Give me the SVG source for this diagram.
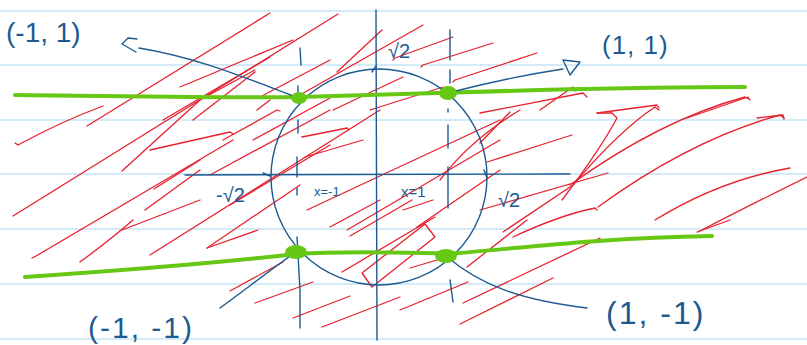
<svg xmlns="http://www.w3.org/2000/svg" width="807" height="345" viewBox="0 0 807 345">
<style>
.rule{stroke:#d3eaf8;stroke-width:2}
.red{fill:none;stroke:#e8202e;stroke-width:1.3;stroke-linecap:round;stroke-linejoin:round}
.blue{fill:none;stroke:#1d5a91;stroke-width:1.4;stroke-linecap:round;stroke-linejoin:round}
.green{fill:none;stroke:#66c814;stroke-width:4;stroke-linecap:round}
.dot{fill:#66c814}
.lbl{font-family:"Liberation Sans",Arial,sans-serif;fill:#1d5a91}
</style>
<rect width="807" height="345" fill="#ffffff"/>
<g id="ruling">
<line class="rule" x1="0" y1="11" x2="807" y2="11"/>
<line class="rule" x1="0" y1="65" x2="807" y2="65"/>
<line class="rule" x1="0" y1="120" x2="807" y2="120"/>
<line class="rule" x1="0" y1="174" x2="807" y2="174"/>
<line class="rule" x1="0" y1="229" x2="807" y2="229"/>
<line class="rule" x1="0" y1="284" x2="807" y2="284"/>
<line class="rule" x1="0" y1="339" x2="807" y2="339"/>
</g>
<g id="hatching">
<path class="red" d="M87,126 L270,13"/>
<path class="red" d="M13,216 L338,14"/>
<path class="red" d="M122,171 L200,100 L255,70"/>
<path class="red" d="M15,143 L18,145 Q60,122 103,106"/>
<path class="red" d="M32,258 L36,256 L233,140"/>
<path class="red" d="M80,262 Q110,240 133,220"/>
<path class="red" d="M150,255 L380,110"/>
<path class="red" d="M207,248 L300,185"/>
<path class="red" d="M207,248 L258,230"/>
<path class="red" d="M155,267 L283,255"/>
<path class="red" d="M230,291 L283,262"/>
<path class="red" d="M255,303 L313,282"/>
<path class="red" d="M293,318 L350,296"/>
<path class="red" d="M322,327 L400,297"/>
<path class="red" d="M150,150 L230,132 L233,134"/>
<path class="red" d="M145,210 L200,170"/>
<path class="red" d="M154,189 L200,160"/>
<path class="red" d="M122,230 L200,200"/>
<path class="red" d="M163,120 L270,57"/>
<path class="red" d="M193,120 L255,72"/>
<path class="red" d="M257,110 L270,100"/>
<path class="red" d="M180,87 L293,40"/>
<path class="red" d="M253,140 L330,98"/>
<path class="red" d="M260,97 L330,60"/>
<path class="red" d="M223,140 L277,110 L280,111"/>
<path class="red" d="M337,72 L382,30"/>
<path class="red" d="M300,95 L423,25"/>
<path class="red" d="M393,60 L395,58 L453,37"/>
<path class="red" d="M421,67 L423,65 L493,43"/>
<path class="red" d="M453,82 L455,80 L537,53"/>
<path class="red" d="M333,110 L403,77"/>
<path class="red" d="M370,110 L443,87"/>
<path class="red" d="M302,137 L347,128 L349,130"/>
<path class="red" d="M305,157 L363,140"/>
<path class="red" d="M307,210 L500,120"/>
<path class="red" d="M347,230 L500,140"/>
<path class="red" d="M417,227 L500,170"/>
<path class="red" d="M403,210 L433,200"/>
<path class="red" d="M440,180 Q470,140 520,110"/>
<path class="red" d="M230,205 L330,145"/>
<path class="red" d="M210,175 L330,110"/>
<path class="red" d="M480,113 L583,93 L587,97"/>
<path class="red" d="M480,143 L510,112"/>
<path class="red" d="M487,162 L572,135"/>
<path class="red" d="M480,210 L608,173"/>
<path class="red" d="M503,232 L573,185 Q620,130 655,107 L659,110"/>
<path class="red" d="M570,185 Q660,120 745,97 L749,99"/>
<path class="red" d="M598,207 Q690,140 780,115 L784,118"/>
<path class="red" d="M655,220 Q720,180 790,168"/>
<path class="red" d="M698,232 Q760,200 807,177"/>
<path class="red" d="M562,200 Q600,150 617,118 L612,113 L597,113"/>
<path class="red" d="M513,237 Q560,215 595,208 L597,210"/>
<path class="red" d="M540,110 L573,87 L575,91"/>
<path class="red" d="M597,113 L657,105 L659,108"/>
<path class="red" d="M687,118 L748,97 L750,100"/>
<path class="red" d="M757,118 L783,115 L784,119"/>
<path class="red" d="M400,310 L468,282"/>
<path class="red" d="M463,303 L600,238"/>
<path class="red" d="M460,324 L553,278"/>
<path class="red" d="M467,267 L527,220"/>
<path class="red" d="M697,232 L730,220"/>
<path class="red" d="M362,273 L425,224 L435,237 L372,287 Z"/>
<path class="red" d="M330,227 L380,200"/>
<path class="red" d="M342,272 L435,217"/>
<path class="red" d="M410,268 L437,260"/>
<path class="red" d="M350,236 L412,200"/>
</g>
<g id="axes">
<line class="blue" x1="185" y1="175" x2="570" y2="174"/>
<line class="blue" x1="376" y1="10" x2="377" y2="340"/>
<circle class="blue" cx="379" cy="177" r="108"/>
<path class="blue" d="M372,72 L376,66"/>
<path class="blue" d="M484,170 L487,178"/>
<path class="blue" d="M263,173 L270,176"/>
</g>
<g id="dashed-x-minus-1">
<path class="blue" d="M300,48 L301,65"/>
<path class="blue" d="M298,86 L298,96"/>
<path class="blue" d="M298,120 L298,133"/>
<path class="blue" d="M297,157 L297,177"/>
<path class="blue" d="M297,188 L297,195"/>
<path class="blue" d="M297,237 L300,290 L300,328"/>
</g>
<g id="dashed-x-1">
<path class="blue" d="M450,30 L450,60"/>
<path class="blue" d="M450,70 L450,83"/>
<path class="blue" d="M448,109 L448,112"/>
<path class="blue" d="M448,125 L448,148"/>
<path class="blue" d="M448,167 L448,208"/>
<path class="blue" d="M450,280 L453,302"/>
</g>
<g id="level-lines">
<path class="green" d="M15,95 C120,96 230,98 300,97 C380,95 460,92 540,90 C620,88 700,87 745,87"/>
<path class="green" d="M25,277 C100,272 200,265 296,254 C360,250 420,254 460,253 C520,248 600,238 712,236"/>
</g>
<g id="connectors">
<path class="blue" d="M299,98 C250,80 200,58 139,48"/>
<path class="blue" d="M137,39 L128,38 L122,44 L136,52"/>
<path class="blue" d="M448,93 C490,82 530,74 563,69"/>
<path class="blue" d="M563,60 L580,62 L570,75 Z"/>
<path class="blue" d="M296,252 C270,270 245,290 220,308"/>
<path class="blue" d="M446,256 C480,285 520,300 587,308"/>
</g>
<g id="point-m1-1"><ellipse class="dot" cx="299" cy="98" rx="8" ry="6"/></g>
<g id="point-1-1"><ellipse class="dot" cx="448" cy="93" rx="9" ry="7"/></g>
<g id="point-m1-m1"><ellipse class="dot" cx="296" cy="252" rx="11" ry="7"/></g>
<g id="point-1-m1"><ellipse class="dot" cx="446" cy="256" rx="11" ry="7"/></g>
<g id="labels">
<text class="lbl" x="6" y="42" font-size="28">(-1, 1)</text>
<text class="lbl" x="602" y="54" font-size="26" letter-spacing="1">(1, 1)</text>
<text class="lbl" x="388" y="58" font-size="20">√2</text>
<text class="lbl" x="216" y="202" font-size="20">-√2</text>
<text class="lbl" x="498" y="207" font-size="20">√2</text>
<text class="lbl" x="314" y="196" font-size="13">x=-1</text>
<text class="lbl" x="401" y="197" font-size="15">x=1</text>
<text class="lbl" x="88" y="338" font-size="30" letter-spacing="2">(-1, -1)</text>
<text class="lbl" x="606" y="324" font-size="32" letter-spacing="2">(1, -1)</text>
</g>
</svg>
